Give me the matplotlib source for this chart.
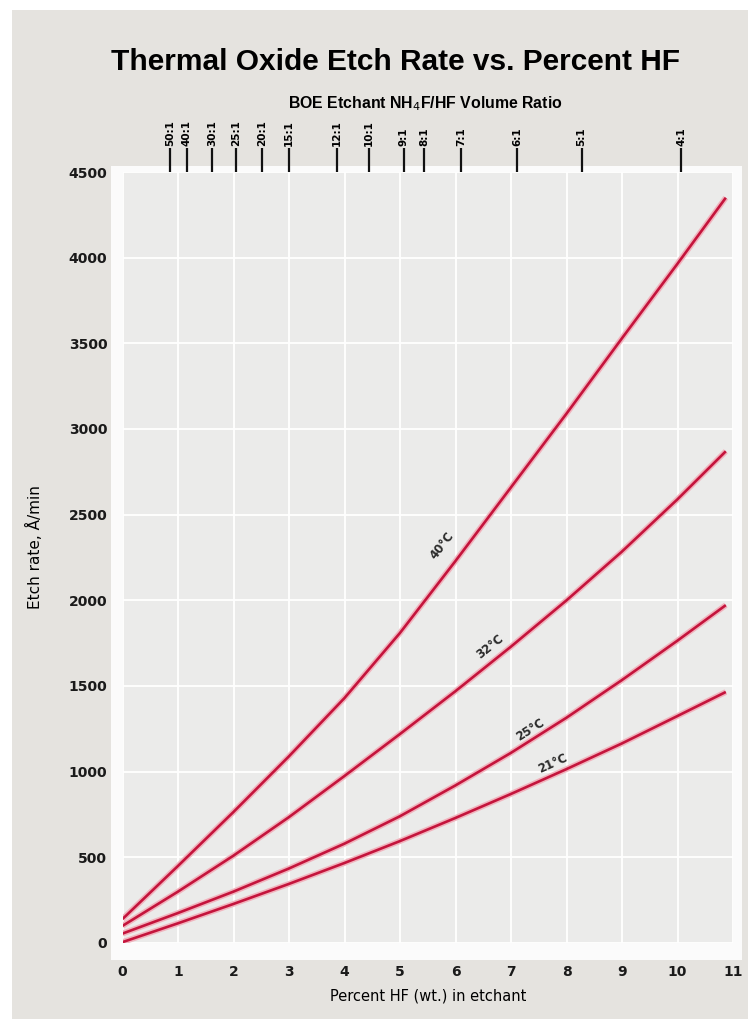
import matplotlib
matplotlib.use('Agg')
from matplotlib import pyplot as plt
from matplotlib.patches import Rectangle
import numpy as np

# etch rate (A/min) at these HF weight percents
pct_hf = [0, 1, 2, 3, 4, 5, 6, 7, 8, 9, 10, 10.87]
rate_40c = [140, 450, 765, 1090, 1430, 1810, 2230, 2660, 3090, 3530, 3965, 4350]
rate_32c = [100, 300, 510, 735, 975, 1220, 1470, 1730, 2000, 2285, 2590, 2870]
rate_25c = [55, 175, 300, 435, 580, 740, 920, 1110, 1315, 1535, 1765, 1972]
rate_21c = [5, 115, 228, 345, 467, 595, 730, 870, 1015, 1165, 1325, 1465]
curve_names = ['40°C', '32°C', '25°C', '21°C']

# BOE volume ratio on the top axis and the HF % it corresponds to
ratio_labels = ['50:1', '40:1', '30:1', '25:1', '20:1', '15:1', '12:1',
                '10:1', '9:1', '8:1', '7:1', '6:1', '5:1', '4:1']
ratio_pos = [0.85, 1.16, 1.61, 2.04, 2.51, 3.0, 3.86,
             4.44, 5.07, 5.44, 6.1, 7.11, 8.27, 10.07]

x_ticks = list(range(0, 12))
y_ticks = list(range(0, 4501, 500))

paper = '#e5e3df'
plot_bg = '#ebebea'
red = '#c4143c'
halo = '#f1b3bd'

fig = plt.figure(figsize=(7.55, 10.19), dpi=100, facecolor='white')

# paper backdrop and the white frame round the plot
fig.patches.append(Rectangle((12 / 755, 0), 736 / 755, 1 - 10 / 1019,
                             transform=fig.transFigure, facecolor=paper,
                             edgecolor='none', zorder=-10))
fig.patches.append(Rectangle((0.147, 0.058), 0.836, 0.779,
                             transform=fig.transFigure, facecolor='#fbfbfb',
                             edgecolor='none', zorder=-9))

ax = fig.add_axes([0.1623, 0.0746, 0.8086, 0.7566])
ax.set_facecolor(plot_bg)
ax.set_xlim(0, 11)
ax.set_ylim(0, 4500)
ax.set_xticks(x_ticks)
ax.set_yticks(y_ticks)
ax.grid(True, color='white', linewidth=1.3)
ax.set_axisbelow(True)
for s in ax.spines.values():
    s.set_visible(False)
ax.tick_params(axis='both', length=0, labelsize=10, labelcolor='#1a1a1a')
ax.tick_params(axis='x', pad=16)
ax.tick_params(axis='y', pad=11)
for lab in ax.get_xticklabels() + ax.get_yticklabels():
    lab.set_fontweight('bold')

series = [rate_40c, rate_32c, rate_25c, rate_21c]
for rates in series:
    ax.plot(pct_hf, rates, color=halo, linewidth=4.2, solid_capstyle='butt', zorder=3)
    ax.plot(pct_hf, rates, color=red, linewidth=1.9, solid_capstyle='butt', zorder=4)

# curve labels, turned to follow the line
label_x = [5.75, 6.62, 7.34, 7.76]
label_off = [24, 12, 8, 8.5]
for rates, name, lx, off in zip(series, curve_names, label_x, label_off):
    ly = np.interp(lx, pct_hf, rates)
    p0 = ax.transData.transform((lx - 0.3, np.interp(lx - 0.3, pct_hf, rates)))
    p1 = ax.transData.transform((lx + 0.3, np.interp(lx + 0.3, pct_hf, rates)))
    ang = np.degrees(np.arctan2(p1[1] - p0[1], p1[0] - p0[0]))
    ax.annotate(name, (lx, ly), xytext=(0, off), textcoords='offset points',
                ha='center', va='center', rotation=ang, fontsize=8.5,
                fontweight='bold', color='#2a2a2a', zorder=5)

ax.set_xlabel('Percent HF (wt.) in etchant', fontsize=10.5, labelpad=7)
ax.set_ylabel('Etch rate, Å/min', fontsize=11)
ax.yaxis.set_label_coords(-0.13, 0.514)

top = ax.twiny()
top.set_xlim(ax.get_xlim())
top.set_xticks(ratio_pos)
top.set_xticklabels(ratio_labels, rotation=90, fontsize=7.5, fontweight='bold')
top.tick_params(axis='x', direction='out', length=17, width=1.6, pad=2, color='#111')
for s in top.spines.values():
    s.set_visible(False)

sub = fig.text(425 / 755, 1 - 104 / 1019, r'BOE Etchant NH$_4$F/HF Volume Ratio',
               ha='center', va='center', fontsize=10.5, fontweight='bold',
               family='Liberation Sans')
title = fig.text(396 / 755, 1 - 62 / 1019, 'Thermal Oxide Etch Rate vs. Percent HF',
                 ha='center', va='center', fontsize=24, fontweight='bold',
                 family='Liberation Sans')

# no condensed face is installed, so size the two headings to the reference widths
renderer = fig.canvas.get_renderer()
for txt, target in [(title, 570), (sub, 275)]:
    w = txt.get_window_extent(renderer).width
    txt.set_fontsize(txt.get_fontsize() * target / w)

plt.savefig('out.png', dpi=100, facecolor=fig.get_facecolor())
